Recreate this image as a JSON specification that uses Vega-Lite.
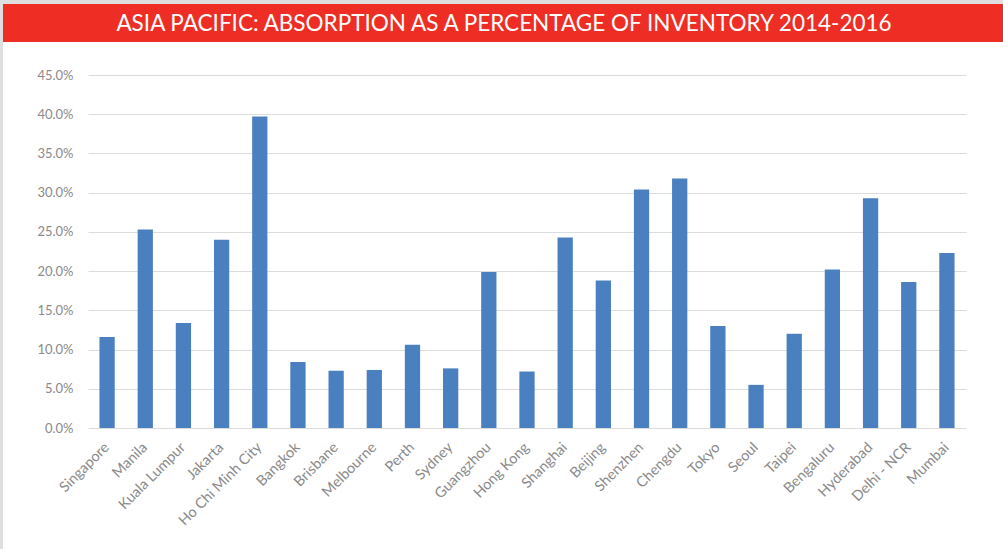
{
  "$schema": "https://vega.github.io/schema/vega-lite/v6.json",
  "background": "#dfdfdf",
  "padding": {"left": 3, "top": 4, "right": 0, "bottom": 0},
  "bounds": "flush",
  "spacing": 0,
  "datasets": {
    "banner": [{"t": "ASIA PACIFIC: ABSORPTION AS A PERCENTAGE OF INVENTORY 2014-2016"}],
    "absorption": [
      {"city": "Singapore", "pct": 0.116},
      {"city": "Manila", "pct": 0.253},
      {"city": "Kuala Lumpur", "pct": 0.134},
      {"city": "Jakarta", "pct": 0.240},
      {"city": "Ho Chi Minh City", "pct": 0.397},
      {"city": "Bangkok", "pct": 0.084},
      {"city": "Brisbane", "pct": 0.073},
      {"city": "Melbourne", "pct": 0.074},
      {"city": "Perth", "pct": 0.106},
      {"city": "Sydney", "pct": 0.076},
      {"city": "Guangzhou", "pct": 0.199},
      {"city": "Hong Kong", "pct": 0.072},
      {"city": "Shanghai", "pct": 0.243},
      {"city": "Beijing", "pct": 0.188},
      {"city": "Shenzhen", "pct": 0.304},
      {"city": "Chengdu", "pct": 0.318},
      {"city": "Tokyo", "pct": 0.130},
      {"city": "Seoul", "pct": 0.055},
      {"city": "Taipei", "pct": 0.120},
      {"city": "Bengaluru", "pct": 0.202},
      {"city": "Hyderabad", "pct": 0.293},
      {"city": "Delhi - NCR", "pct": 0.186},
      {"city": "Mumbai", "pct": 0.223}
    ]
  },
  "vconcat": [
    {
      "width": 1000,
      "height": 38,
      "view": {"fill": "#ee2e24", "stroke": null},
      "data": {"name": "banner"},
      "mark": {"type": "text", "font": "Lato", "fontSize": 22.5, "color": "#ffffff", "align": "center", "baseline": "middle", "dx": 1, "dy": 1},
      "encoding": {"text": {"field": "t", "type": "nominal"}}
    },
    {
      "width": 1000,
      "height": 507,
      "view": {"fill": "#ffffff", "stroke": null},
      "data": {"name": "absorption"},
      "mark": {"type": "bar", "color": "#4a80c0"},
      "encoding": {
        "x": {
          "field": "city",
          "type": "nominal",
          "sort": null,
          "title": null,
          "scale": {"paddingInner": 0.6, "paddingOuter": 0.3, "range": [85, 963]},
          "axis": {
            "labelAngle": -45,
            "labelAlign": "right",
            "labelBaseline": "middle",
            "labelFont": "Lato",
            "labelFontSize": 14.5,
            "labelColor": "#8a8a8a",
            "labelPadding": 17,
            "offset": -121,
            "ticks": false,
            "domain": false,
            "grid": false
          }
        },
        "y": {
          "field": "pct",
          "type": "quantitative",
          "title": null,
          "scale": {"domain": [0, 0.45], "nice": false, "range": [386, 33]},
          "axis": {
            "values": [0, 0.05, 0.1, 0.15, 0.2, 0.25, 0.3, 0.35, 0.4, 0.45],
            "format": ".1%",
            "labelFont": "Lato",
            "labelFontSize": 13,
            "labelColor": "#8a8a8a",
            "labelPadding": 15,
            "offset": -85,
            "ticks": false,
            "domain": false,
            "grid": true,
            "gridColor": "#dcdcdc",
            "gridWidth": 1
          }
        }
      }
    }
  ]
}
